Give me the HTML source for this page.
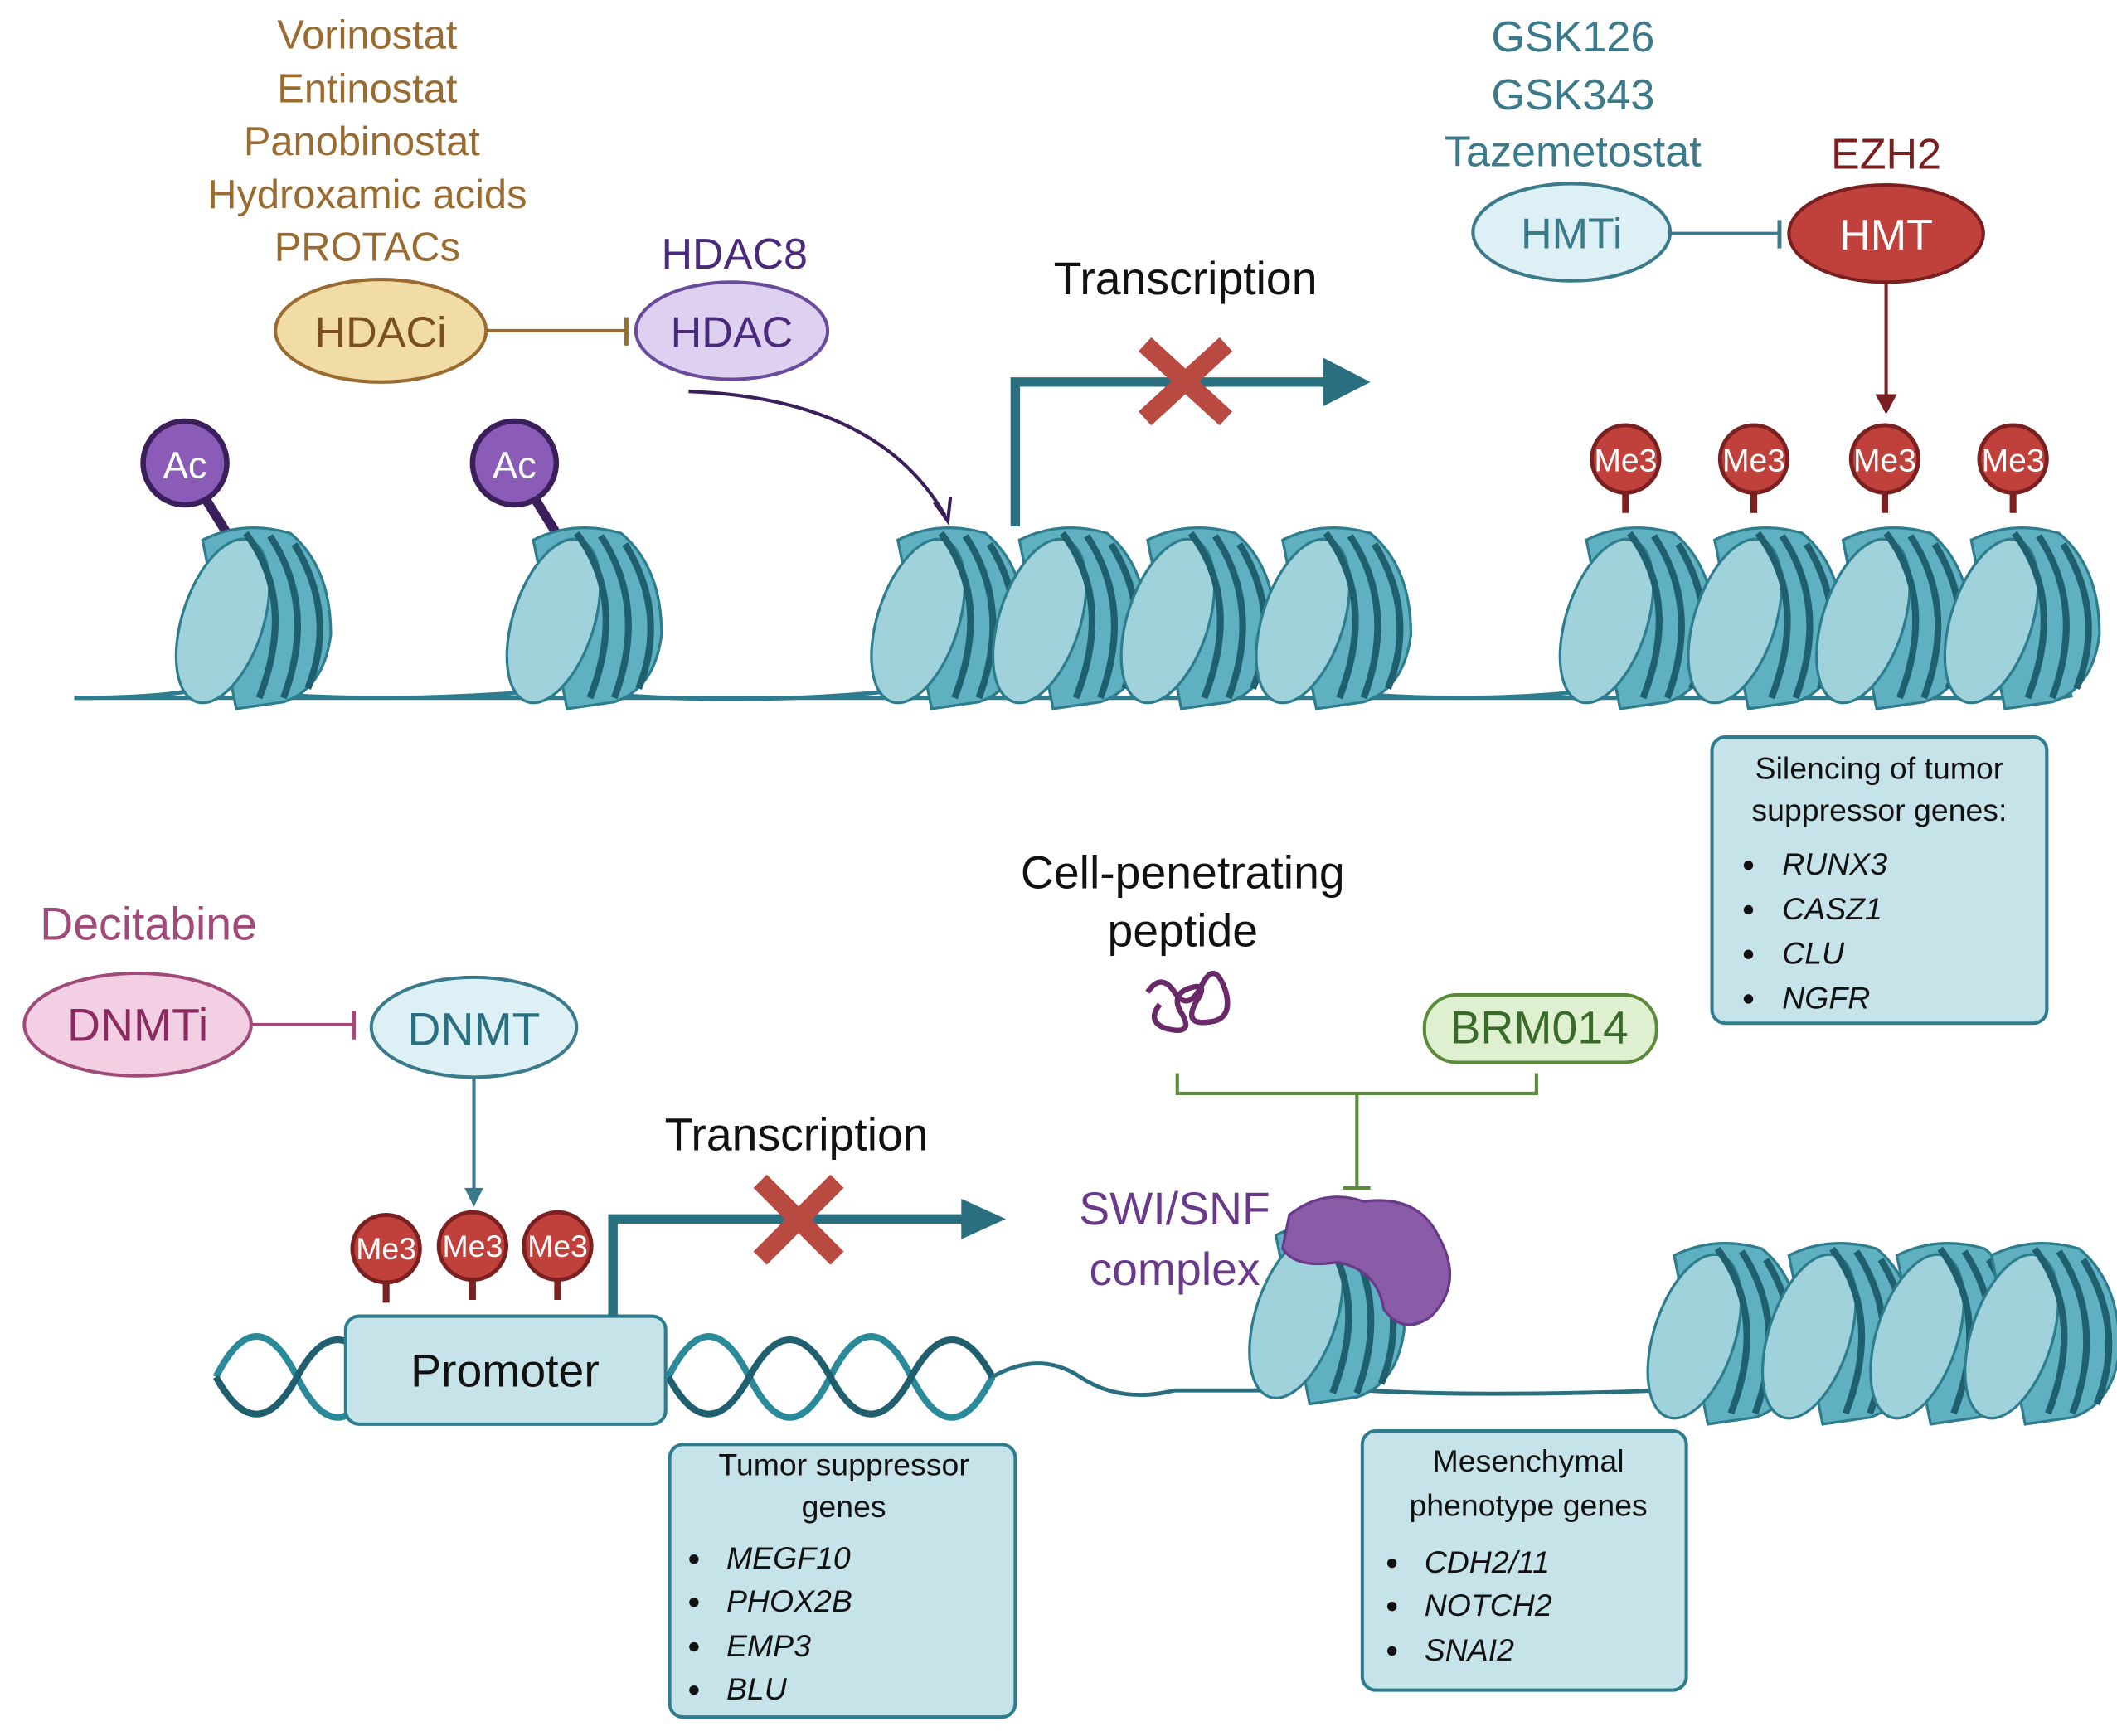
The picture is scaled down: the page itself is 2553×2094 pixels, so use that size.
<!DOCTYPE html>
<html><head><meta charset="utf-8"><style>html,body{margin:0;padding:0;background:#fff}svg{display:block}</style></head><body>
<svg width="2553" height="2094" viewBox="0 0 1568 1286" preserveAspectRatio="none" xmlns="http://www.w3.org/2000/svg" font-family="Liberation Sans, sans-serif">
<defs>
<g id="nuc">
<path d="M-40,-55 Q-10,-70 25,-60 Q55,-35 55,15 Q50,55 20,65 L-15,70 Z" fill="#5fb0c0" stroke="#2e7d8e" stroke-width="2"/>
<ellipse cx="-25" cy="5" rx="30" ry="63" transform="rotate(18 -25 5)" fill="#9fd2db" stroke="#2e7d8e" stroke-width="2"/>
<path d="M-8,-60 Q30,-10 2,62" fill="none" stroke="#1f5f6e" stroke-width="5"/>
<path d="M10,-58 Q45,-5 20,62" fill="none" stroke="#1f5f6e" stroke-width="5"/>
<path d="M28,-52 Q60,0 38,55" fill="none" stroke="#1f5f6e" stroke-width="5"/>
</g>
<g id="me3">
<line x1="0" y1="0" x2="0" y2="40" stroke="#7a2020" stroke-width="5"/>
<circle cx="0" cy="0" r="25" fill="#c0413b" stroke="#7a2020" stroke-width="3"/>
</g>
</defs>
<!-- top DNA -->
<path d="M55,517 Q120,517 150,510 M215,515 Q300,520 400,512 M460,515 Q560,522 660,512 M1020,515 Q1100,520 1175,512 M1535,515 L1525,517" stroke="#2e7d8e" stroke-width="3" fill="none"/>
<path d="M55,517 L1525,517" stroke="#2e7d8e" stroke-width="3" fill="none"/>
<!-- Ac -->
<line x1="137" y1="345" x2="168" y2="395" stroke="#3a1f5a" stroke-width="7"/>
<circle cx="137" cy="343" r="31" fill="#8a5cb8" stroke="#3a1f5a" stroke-width="4"/>
<text x="137" y="354" font-size="28" fill="#fff" text-anchor="middle">Ac</text>
<line x1="381" y1="345" x2="412" y2="395" stroke="#3a1f5a" stroke-width="7"/>
<circle cx="381" cy="343" r="31" fill="#8a5cb8" stroke="#3a1f5a" stroke-width="4"/>
<text x="381" y="354" font-size="28" fill="#fff" text-anchor="middle">Ac</text>
<use href="#nuc" x="190" y="455"/><use href="#nuc" x="435" y="455"/>
<use href="#nuc" x="705" y="455"/><use href="#nuc" x="795" y="455"/><use href="#nuc" x="890" y="455"/><use href="#nuc" x="990" y="455"/>
<use href="#me3" x="1204" y="340"/><use href="#me3" x="1299" y="340"/><use href="#me3" x="1396" y="340"/><use href="#me3" x="1491" y="340"/>
<g font-size="24" fill="#fff" text-anchor="middle"><text x="1204" y="349">Me3</text><text x="1299" y="349">Me3</text><text x="1396" y="349">Me3</text><text x="1491" y="349">Me3</text></g>
<use href="#nuc" x="1215" y="455"/><use href="#nuc" x="1310" y="455"/><use href="#nuc" x="1405" y="455"/><use href="#nuc" x="1500" y="455"/>
<!-- HDAC -->
<g font-size="30" fill="#9a6b30" text-anchor="middle"><text x="272" y="36">Vorinostat</text><text x="272" y="76">Entinostat</text><text x="268" y="115">Panobinostat</text><text x="272" y="154">Hydroxamic acids</text><text x="272" y="193">PROTACs</text></g>
<ellipse cx="282" cy="245" rx="78" ry="38" fill="#f2dca6" stroke="#9a6b30" stroke-width="2.5"/>
<text x="282" y="257" font-size="32" fill="#7a5020" text-anchor="middle">HDACi</text>
<line x1="360" y1="245" x2="464" y2="245" stroke="#9a6b30" stroke-width="2.5"/><line x1="464" y1="235" x2="464" y2="256" stroke="#9a6b30" stroke-width="3"/>
<text x="544" y="199" font-size="32" fill="#4a2a7a" text-anchor="middle">HDAC8</text>
<ellipse cx="542" cy="245" rx="71" ry="36" fill="#ddd0f0" stroke="#6a4a9a" stroke-width="2.5"/>
<text x="542" y="257" font-size="32" fill="#4a2a7a" text-anchor="middle">HDAC</text>
<path d="M510,290 Q650,295 700,382" stroke="#3a1f5a" stroke-width="2.5" fill="none"/><path d="M692,372 L702,386 L704,368" stroke="#3a1f5a" stroke-width="2.5" fill="none"/>
<!-- transcription top -->
<text x="878" y="218" font-size="34" fill="#111" text-anchor="middle">Transcription</text>
<path d="M752,390 L752,283 L985,283" stroke="#2a6f80" stroke-width="7" fill="none"/>
<path d="M980,265 L1015,283 L980,301 Z" fill="#2a6f80"/>
<path d="M848,255 L908,310 M908,255 L848,310" stroke="#b94a42" stroke-width="14"/>
<!-- HMT -->
<g font-size="32" fill="#3a7a8a" text-anchor="middle"><text x="1165" y="38">GSK126</text><text x="1165" y="81">GSK343</text><text x="1165" y="123">Tazemetostat</text></g>
<ellipse cx="1164" cy="172" rx="73" ry="36" fill="#dcf0f5" stroke="#3a7a8a" stroke-width="2.5"/>
<text x="1164" y="184" font-size="32" fill="#3a7a8a" text-anchor="middle">HMTi</text>
<line x1="1237" y1="173" x2="1318" y2="173" stroke="#3a7a8a" stroke-width="2.5"/><line x1="1318" y1="163" x2="1318" y2="184" stroke="#3a7a8a" stroke-width="3"/>
<text x="1397" y="125" font-size="32" fill="#7a1f1f" text-anchor="middle">EZH2</text>
<ellipse cx="1397" cy="173" rx="72" ry="36" fill="#c0413b" stroke="#7a1f1f" stroke-width="2.5"/>
<text x="1397" y="185" font-size="32" fill="#fff" text-anchor="middle">HMT</text>
<line x1="1397" y1="209" x2="1397" y2="302" stroke="#7a1f1f" stroke-width="2.5"/><path d="M1389,292 L1397,307 L1405,292 Z" fill="#7a1f1f"/>
<!-- silencing box -->
<rect x="1268" y="546" width="248" height="212" rx="10" fill="#c5e3e8" stroke="#2e7d8e" stroke-width="2.5"/>
<g font-size="23" fill="#111"><text x="1392" y="577" text-anchor="middle">Silencing of tumor</text><text x="1392" y="608" text-anchor="middle">suppressor genes:</text>
<g font-style="italic"><text x="1320" y="648">RUNX3</text><text x="1320" y="681">CASZ1</text><text x="1320" y="714">CLU</text><text x="1320" y="747">NGFR</text></g>
<g><circle cx="1295" cy="641" r="3.5"/><circle cx="1295" cy="674" r="3.5"/><circle cx="1295" cy="707" r="3.5"/><circle cx="1295" cy="740" r="3.5"/></g></g>
<!-- DNMT -->
<text x="110" y="696" font-size="34" fill="#a04a7a" text-anchor="middle">Decitabine</text>
<ellipse cx="102" cy="759" rx="84" ry="38" fill="#f2cfe3" stroke="#a04a7a" stroke-width="2.5"/>
<text x="102" y="771" font-size="34" fill="#8a2a60" text-anchor="middle">DNMTi</text>
<line x1="186" y1="759" x2="262" y2="759" stroke="#a04a7a" stroke-width="2.5"/><line x1="262" y1="749" x2="262" y2="770" stroke="#a04a7a" stroke-width="3"/>
<ellipse cx="351" cy="761" rx="76" ry="37" fill="#dcf0f5" stroke="#3a7a8a" stroke-width="2.5"/>
<text x="351" y="774" font-size="34" fill="#2a6f80" text-anchor="middle">DNMT</text>
<line x1="351" y1="798" x2="351" y2="885" stroke="#3a7a8a" stroke-width="2.5"/><path d="M344,880 L351,894 L358,880 Z" fill="#3a7a8a"/>
<!-- DNA helix -->
<path d="M160,1020 Q190,960 220,1020 T280,1020 M495,1020 Q525,960 555,1020 T615,1020 T675,1020 T735,1020" stroke="#2a8a9a" stroke-width="5" fill="none"/>
<path d="M160,1020 Q190,1075 220,1020 T280,1020 M495,1020 Q525,1075 555,1020 T615,1020 T675,1020 T735,1020" stroke="#1f5f6e" stroke-width="5" fill="none"/>
<path d="M735,1020 Q770,1000 800,1020 T870,1030 L950,1030 M1010,1030 Q1100,1035 1230,1030 L1540,1030" stroke="#2a6f80" stroke-width="3" fill="none"/>
<use href="#me3" x="286" y="925"/><use href="#me3" x="350" y="923"/><use href="#me3" x="413" y="923"/>
<g font-size="23" fill="#fff" text-anchor="middle"><text x="286" y="933">Me3</text><text x="350" y="931">Me3</text><text x="413" y="931">Me3</text></g>
<rect x="256" y="975" width="237" height="80" rx="10" fill="#c5e3e8" stroke="#2e7d8e" stroke-width="2.5"/>
<text x="374" y="1027" font-size="34" fill="#111" text-anchor="middle">Promoter</text>
<text x="590" y="852" font-size="34" fill="#111" text-anchor="middle">Transcription</text>
<path d="M454,975 L454,903 L715,903" stroke="#2a6f80" stroke-width="7" fill="none"/>
<path d="M712,888 L745,903 L712,918 Z" fill="#2a6f80"/>
<path d="M563,875 L620,932 M620,875 L563,932" stroke="#b94a42" stroke-width="14"/>
<!-- tumor box -->
<rect x="496" y="1070" width="256" height="202" rx="10" fill="#c5e3e8" stroke="#2e7d8e" stroke-width="2.5"/>
<g font-size="23" fill="#111"><text x="625" y="1093" text-anchor="middle">Tumor suppressor</text><text x="625" y="1124" text-anchor="middle">genes</text>
<g font-style="italic"><text x="538" y="1162">MEGF10</text><text x="538" y="1194">PHOX2B</text><text x="538" y="1227">EMP3</text><text x="538" y="1259">BLU</text></g>
<circle cx="514" cy="1155" r="3.5"/><circle cx="514" cy="1187" r="3.5"/><circle cx="514" cy="1220" r="3.5"/><circle cx="514" cy="1252" r="3.5"/></g>
<!-- SWI/SNF -->
<text x="876" y="658" font-size="34" fill="#111" text-anchor="middle">Cell-penetrating</text>
<text x="876" y="701" font-size="34" fill="#111" text-anchor="middle">peptide</text>
<path d="M850,735 q10,-15 20,0 q10,15 20,-5 q10,-20 18,5 q5,20 -12,22 q-20,3 -10,-15 q10,-15 -5,-10 q-15,5 -5,20 q8,15 -12,10 q-15,-5 -5,-18" stroke="#6a2a6a" stroke-width="4" fill="none"/>
<rect x="1055" y="737" width="172" height="50" rx="24" fill="#dff0d0" stroke="#5a8a3a" stroke-width="2.5"/>
<text x="1140" y="773" font-size="34" fill="#3a6a2a" text-anchor="middle">BRM014</text>
<path d="M872,795 L872,810 L1138,810 L1138,795 M1005,810 L1005,880 M995,880 L1015,880" stroke="#5a8a3a" stroke-width="2.5" fill="none"/>
<text x="870" y="907" font-size="34" fill="#6a3a8a" text-anchor="middle">SWI/SNF</text>
<text x="870" y="952" font-size="34" fill="#6a3a8a" text-anchor="middle">complex</text>
<use href="#nuc" x="985" y="970"/>
<path d="M955,900 Q980,880 1010,890 Q1050,885 1065,915 Q1085,950 1060,975 Q1040,990 1025,970 Q1020,940 990,935 Q960,940 950,925 Z" fill="#8a5ca8" stroke="#6a3a8a" stroke-width="2"/>
<use href="#nuc" x="1280" y="985"/><use href="#nuc" x="1365" y="985"/><use href="#nuc" x="1445" y="985"/><use href="#nuc" x="1515" y="985"/>
<!-- mesenchymal box -->
<rect x="1009" y="1060" width="240" height="192" rx="10" fill="#c5e3e8" stroke="#2e7d8e" stroke-width="2.5"/>
<g font-size="23" fill="#111"><text x="1132" y="1090" text-anchor="middle">Mesenchymal</text><text x="1132" y="1123" text-anchor="middle">phenotype genes</text>
<g font-style="italic"><text x="1055" y="1165">CDH2/11</text><text x="1055" y="1197">NOTCH2</text><text x="1055" y="1230">SNAI2</text></g>
<circle cx="1031" cy="1158" r="3.5"/><circle cx="1031" cy="1190" r="3.5"/><circle cx="1031" cy="1223" r="3.5"/></g>
</svg>
</body></html>
